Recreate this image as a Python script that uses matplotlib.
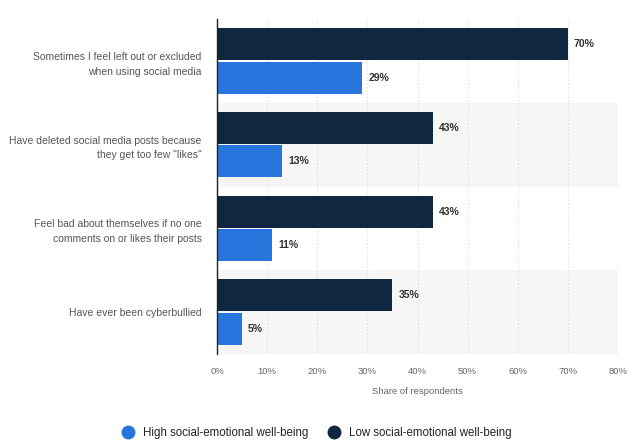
import matplotlib.pyplot as plt
from matplotlib.lines import Line2D
import numpy as np

# Survey answers, top to bottom
categories = [
    'Sometimes I feel left out or excluded\nwhen using social media',
    'Have deleted social media posts because\nthey get too few "likes"',
    'Feel bad about themselves if no one\ncomments on or likes their posts',
    'Have ever been cyberbullied',
]
low_wellbeing = [70, 43, 43, 35]
high_wellbeing = [29, 13, 11, 5]

dark = '#0f2740'
blue = '#2876dd'
plt.rcParams['font.family'] = ['Liberation Sans', 'DejaVu Sans']

fig = plt.figure(figsize=(6.43, 4.41), dpi=100)
ax = fig.add_axes([217 / 643, 1 - 354 / 441, 401 / 643, 335 / 441])

y = np.arange(len(categories))
h = 0.38

# light bands behind every second group
for i in y:
    if i % 2 == 1:
        ax.axhspan(i - 0.5, i + 0.5, color='#f6f6f6', zorder=0, lw=0)

b_low = ax.barh(y - 0.2, low_wellbeing, height=h, color=dark, zorder=3)
b_high = ax.barh(y + 0.2, high_wellbeing, height=h, color=blue, zorder=3)

for bars in (b_low, b_high):
    for bar in bars:
        w = bar.get_width()
        ax.text(w + 1.2, bar.get_y() + bar.get_height() / 2, f'{int(w)}%',
                va='center', ha='left', fontsize=7.5, fontweight='bold',
                color='#333333', zorder=4)

ax.set_xlim(0, 80)
ax.set_ylim(len(categories) - 0.5, -0.5)
ax.set_xticks(range(0, 81, 10))
ax.set_xticklabels([f'{v}%' for v in range(0, 81, 10)], fontsize=6.8, color='#666666')
ax.set_yticks(y)
ax.set_yticklabels(categories, fontsize=7.5, color='#555555', linespacing=1.6)
ax.tick_params(axis='both', length=0)
ax.tick_params(axis='y', pad=11)
ax.tick_params(axis='x', pad=9)

ax.grid(axis='x', color='#d8d8d8', linestyle=(0, (1, 2)), linewidth=0.8, zorder=1)
for s in ('top', 'right', 'bottom'):
    ax.spines[s].set_visible(False)
ax.spines['left'].set_color('#222222')
ax.spines['left'].set_linewidth(1)
ax.spines['left'].set_zorder(5)

ax.set_xlabel('Share of respondents', fontsize=6.8, color='#666666', labelpad=8)

handles = [
    Line2D([], [], marker='o', color='none', markerfacecolor=blue, markeredgecolor=blue, markersize=9),
    Line2D([], [], marker='o', color='none', markerfacecolor=dark, markeredgecolor=dark, markersize=9),
]
fig.legend(handles, ['High social-emotional well-being', 'Low social-emotional well-being'],
           loc='center', bbox_to_anchor=(314 / 643, 1 - 433 / 441), ncol=2, frameon=False,
           fontsize=8.3, handletextpad=0.3, columnspacing=1.2, labelcolor='#222222')

fig.savefig('out.png', dpi=100)
